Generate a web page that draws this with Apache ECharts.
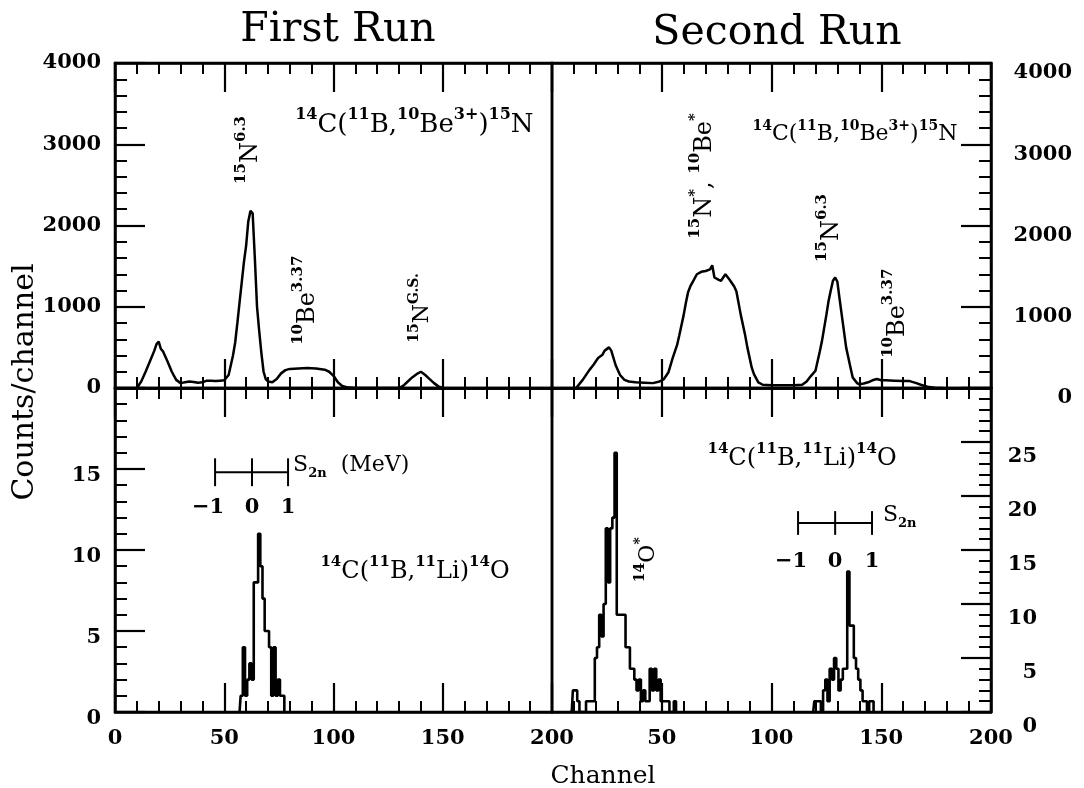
<!DOCTYPE html>
<html><head><meta charset="utf-8">
<script src="https://cdn.jsdelivr.net/npm/echarts@6/dist/echarts.min.js"></script>
<style>html,body{margin:0;padding:0;background:#fff}#c{width:1084px;height:788px}</style>
</head><body><div id="c"></div>
<script>
// ---------- DATA ----------
const channelTicks = [0, 50, 100, 150, 200];
const titles = ['First Run', 'Second Run'];

// 14C(11B,10Be3+)15N spectrum, first run  [channel, counts]
const firstRunBe = [[10,0],[12,80],[14,200],[16,330],[18,460],[19,540],[20,570],[21,480],[22,450],[24,330],[26,200],[28,100],[30,60],[32,70],[34,80],[36,75],[38,65],[40,70],[42,90],[44,90],[46,85],[48,90],[50,95],[52,160],[54,400],[55,560],[56,800],[57,1050],[58,1300],[59,1550],[60,1750],[61,2050],[62,2180],[63,2150],[64,1600],[65,1000],[66,700],[67,430],[68,200],[69,110],[70,80],[72,70],[74,110],[76,180],[78,220],[80,235],[84,240],[88,245],[92,240],[96,225],[98,200],[100,150],[102,70],[104,25],[106,10],[110,0],[130,0],[132,30],[134,80],[136,130],[138,170],[140,200],[142,160],[144,110],[146,60],[148,20],[150,0]];

// 14C(11B,10Be3+)15N spectrum, second run
const secondRunBe = [[11,0],[14,100],[17,220],[19,290],[21,370],[23,410],[24,460],[26,500],[27,460],[29,280],[31,160],[33,100],[35,80],[38,70],[42,65],[46,60],[49,80],[51,110],[53,190],[55,370],[57,530],[58,650],[60,900],[61,1050],[62,1180],[63,1250],[64,1300],[66,1400],[68,1430],[70,1440],[72,1460],[73,1510],[74,1360],[76,1330],[77,1320],[79,1400],[81,1330],[83,1250],[84,1190],[86,900],[88,650],[89,500],[91,250],[92,170],[94,70],[96,40],[100,35],[105,35],[110,35],[114,40],[116,80],[118,150],[120,210],[122,450],[123,580],[125,900],[126,1070],[127,1200],[128,1320],[129,1360],[130,1310],[131,1100],[132,900],[134,500],[136,250],[137,130],[139,60],[140,45],[142,55],[144,70],[146,95],[148,110],[150,95],[152,95],[156,90],[160,85],[163,85],[166,60],[168,40],[171,15],[175,0],[178,0]];

// 14C(11B,11Li)14O histograms
const firstRunLiChannels = [57,58,59,60,61,62,63,64,65,66,67,68,69,70,71,72,73,74,75,76,77,78];
const firstRunLiCounts   = [0,1,4,1,2,3,2,8,8,11,9,7,5,5,4,1,4,1,2,1,1,0];
const secondRunLiChannels = [8,9,10,11,12,13,14,15,16,17,18,19,20,21,22,23,24,25,26,27,28,29,30,31,32,33,34,35,36,37,38,39,40,41,42,43,44,45,46,47,48,49,50,51,52,53,54,55,56,57,
  119,120,121,122,123,124,125,126,127,128,129,130,131,132,133,134,135,136,137,138,139,140,141,142,143,144,145,146,147];
const secondRunLiCounts = [0,0,2,2,1,0,0,0,1,1,1,1,5,6,9,7,10,17,12,17,18,24,9,9,9,9,6,6,4,4,3,2,3,1,2,1,1,4,2,4,2,3,1,1,1,1,0,0,1,0,
  0,1,1,1,0,2,3,1,4,3,5,4,2,3,4,4,13,8,8,5,4,3,2,1,1,0,1,1,0];

// S2n calibration bars: channels of S2n = -1, 0, +1 MeV
const s2nValues = ['\u22121', '0', '1'];
const s2nChannelsFirst = [45.8, 62.7, 79.2];
const s2nChannelsSecond = [112.1, 129.0, 145.8];

// ---------- BUILD ----------
const pairs = (xs, ys) => xs.map((x, i) => [x, ys[i]]);
const BLACK = '#000';
const labelFont = { color: BLACK, fontFamily: 'DejaVu Serif', fontWeight: 'bold', fontSize: 21 };

const grids = [
  { left: 115, top: 63, width: 437, height: 325 },
  { left: 552, top: 63, width: 439, height: 325 },
  { left: 115, top: 388, width: 437, height: 324 },
  { left: 552, top: 388, width: 439, height: 324 }
].map(g => Object.assign(g, { show: true, borderColor: BLACK, borderWidth: 2.5, backgroundColor: 'transparent' }));

function xAx(gridIndex, position, showLabels, showMin) {
  return {
    type: 'value', gridIndex, position, min: 0, max: 200, interval: 50,
    axisLine: { show: true, onZero: false, lineStyle: { color: BLACK, width: 2.5 } },
    axisTick: { show: true, inside: true, length: 29, lineStyle: { color: BLACK, width: 2.2 } },
    minorTick: { show: true, splitNumber: 5, length: 11, lineStyle: { color: BLACK, width: 2 } },
    splitLine: { show: false }, minorSplitLine: { show: false },
    axisLabel: Object.assign({ show: showLabels, margin: 16, showMinLabel: showMin, showMaxLabel: true,
      formatter: v => channelTicks.includes(v) ? String(v) : '' }, labelFont)
  };
}
function yAx(gridIndex, position, max, interval, showMax, extra) {
  return {
    type: 'value', gridIndex, position, min: 0, max, interval,
    axisLine: { show: true, onZero: false, lineStyle: { color: BLACK, width: 2.5 } },
    axisTick: { show: true, inside: true, length: 30, lineStyle: { color: BLACK, width: 2.2 } },
    minorTick: { show: true, splitNumber: 5, length: 12, lineStyle: { color: BLACK, width: 2 } },
    splitLine: { show: false }, minorSplitLine: { show: false },
    axisLabel: Object.assign({ margin: 14, showMaxLabel: showMax, showMinLabel: true, formatter: v => String(v) }, labelFont, extra || {})
  };
}

const xAxis = [
  xAx(0, 'bottom', false, true), xAx(0, 'top', false, true),
  xAx(1, 'bottom', false, true), xAx(1, 'top', false, true),
  xAx(2, 'bottom', true, true),  xAx(2, 'top', false, true),
  xAx(3, 'bottom', true, false), xAx(3, 'top', false, true)
];
const yAxis = [
  yAx(0, 'left', 4000, 1000, true),
  yAx(1, 'right', 4000, 1000, true, { align: 'right', margin: 81, verticalAlign: 'top', lineHeight: 20 }),
  yAx(2, 'left', 20, 5, false, { verticalAlign: 'top', lineHeight: 14 }),
  yAx(3, 'right', 30, 5, false, { align: 'right', margin: 46, verticalAlign: 'top', lineHeight: 30 })
];
// bottom x axis index per grid
const xb = [0, 2, 4, 6];

const tok = (size, weight, va, lh) => ({ fontFamily: 'DejaVu Serif', fontWeight: weight, fontSize: size, lineHeight: lh, verticalAlign: va, color: BLACK, opacity: 1, textBorderWidth: 0 });
const rich = (m, s) => ({
  m: tok(m, 'normal', 'bottom', Math.round(m * 1.2)),
  s: tok(s, 'bold', 'top', s),
  b: tok(m, 'normal', 'top', Math.round(m * 1.2)),
  u: tok(s, 'bold', 'bottom', s)
});

const txtRxnBe = '{s|14}{m|C(}{s|11}{m|B,}{s|10}{m|Be}{s|3+}{m|)}{s|15}{m|N}';
const txtRxnLi = '{s|14}{m|C(}{s|11}{m|B,}{s|11}{m|Li)}{s|14}{m|O}';
const txtN63 = '{s|15}{m|N}{s|6.3}';
const txtBe337 = '{s|10}{m|Be}{s|3.37}';
const txtNgs = '{s|15}{m|N}{s|G.S.}';
const txtNBe = '{s|15}{m|N}{s|*}{m|, }{s|10}{m|Be}{s|*}';
const txtO14 = '{s|14}{m|O}{s|*}';
const txtS2nMeV = '{b|S}{u|2n}{b|  (MeV)}';
const txtS2n = '{b|S}{u|2n}';

// annotation anchors (data coordinates of each panel)
const notes = [
  [0, 137, 3270, txtRxnBe, 0, 26, 16, 'center'],
  [0, 61, 2930, txtN63, 90, 24, 15, 'center'],
  [0, 87, 1080, txtBe337, 90, 24, 15, 'center'],
  [0, 139.6, 985, txtNgs, 90, 22, 14, 'center'],
  [1, 138, 3150, txtRxnBe, 0, 22, 14, 'center'],
  [1, 68.3, 2610, txtNBe, 90, 24, 15, 'center'],
  [1, 126.2, 1970, txtN63, 90, 24, 15, 'center'],
  [1, 156.3, 920, txtBe337, 90, 24, 15, 'center'],
  [2, 137.3, 8.8, txtRxnLi, 0, 24, 15, 'center'],
  [2, 81.5, 15.1, txtS2nMeV, 0, 22, 13, 'left'],
  [3, 113.9, 23.7, txtRxnLi, 0, 24, 15, 'center'],
  [3, 150.8, 18.0, txtS2n, 0, 22, 13, 'left'],
  [3, 42.8, 14.1, txtO14, 90, 22, 14, 'center']
];

const series = [];
const solid = w => ({ color: BLACK, width: w });
series.push({ type: 'line', xAxisIndex: 0, yAxisIndex: 0, data: firstRunBe, symbol: 'none', lineStyle: solid(2.5), z: 5 });
series.push({ type: 'line', xAxisIndex: 2, yAxisIndex: 1, data: secondRunBe, symbol: 'none', lineStyle: solid(2.5), z: 5 });
series.push({ type: 'line', xAxisIndex: 4, yAxisIndex: 2, data: pairs(firstRunLiChannels, firstRunLiCounts), step: 'middle', symbol: 'none', lineStyle: solid(2.6), z: 5 });
const secPairs = pairs(secondRunLiChannels, secondRunLiCounts);
series.push({ type: 'line', xAxisIndex: 6, yAxisIndex: 3, data: secPairs.filter(p => p[0] < 100), step: 'middle', symbol: 'none', lineStyle: solid(2.6), z: 5 });
series.push({ type: 'line', xAxisIndex: 6, yAxisIndex: 3, data: secPairs.filter(p => p[0] > 100), step: 'middle', symbol: 'none', lineStyle: solid(2.6), z: 5 });

// S2n bars
function s2nBar(gridIdx, chans, y, half, labelY) {
  const line = { type: 'line', xAxisIndex: xb[gridIdx], yAxisIndex: gridIdx, symbol: 'none', lineStyle: solid(2), z: 6, silent: true };
  series.push(Object.assign({}, line, { data: [[chans[0], y], [chans[2], y]] }));
  chans.forEach(c => series.push(Object.assign({}, line, { data: [[c, y - half], [c, y + half]] })));
  series.push({
    type: 'scatter', xAxisIndex: xb[gridIdx], yAxisIndex: gridIdx, symbolSize: 0, silent: true, z: 7,
    itemStyle: { opacity: 1 },
    data: chans.map((c, i) => ({ value: [c, labelY], label: { offset: [i === 0 ? -7 : 0, 0] } })),
    label: { show: true, position: 'inside', color: BLACK, opacity: 1, textBorderWidth: 0, fontFamily: 'DejaVu Serif', fontWeight: 'bold', fontSize: 21,
      formatter: p => s2nValues[p.dataIndex] }
  });
}
s2nBar(2, s2nChannelsFirst, 14.8, 0.86, 12.6);
s2nBar(3, s2nChannelsSecond, 17.5, 1.1, 13.9);

// annotations
[0, 1, 2, 3].forEach(g => {
  series.push({
    type: 'scatter', xAxisIndex: xb[g], yAxisIndex: g, symbolSize: 0, silent: true, z: 8,
    itemStyle: { opacity: 1 },
    data: notes.filter(n => n[0] === g).map(n => ({
      value: [n[1], n[2]],
      label: { show: true, position: 'inside', rotate: n[4], align: n[7], verticalAlign: 'middle', color: BLACK, opacity: 1, textBorderWidth: 0, formatter: n[3], rich: rich(n[5], n[6]) }
    }))
  });
});

const chart = echarts.init(document.getElementById('c'), null, { renderer: 'canvas' });
chart.setOption({
  animation: false,
  backgroundColor: '#fff',
  grid: grids, xAxis, yAxis, series,
  graphic: [
    { type: 'text', style: { text: titles[0], fontFamily: 'DejaVu Serif', fontSize: 41, fill: BLACK, align: 'center', verticalAlign: 'middle' }, x: 338, y: 30 },
    { type: 'text', style: { text: titles[1], fontFamily: 'DejaVu Serif', fontSize: 41, fill: BLACK, align: 'center', verticalAlign: 'middle' }, x: 777, y: 33 },
    { type: 'text', style: { text: 'Channel', fontFamily: 'DejaVu Serif', fontSize: 25, fill: BLACK, align: 'center', verticalAlign: 'middle' }, x: 603, y: 776 },
    { type: 'text', style: { text: 'Counts/channel', fontFamily: 'DejaVu Serif', fontSize: 30, fill: BLACK, align: 'center', verticalAlign: 'middle' }, x: 25, y: 382, rotation: Math.PI / 2 }
  ]
});
</script></body></html>
